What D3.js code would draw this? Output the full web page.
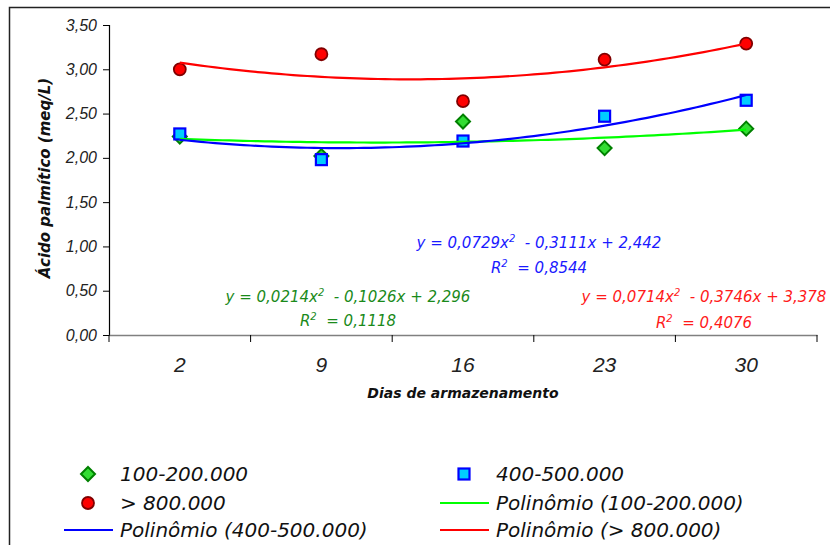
<!DOCTYPE html>
<html><head><meta charset="utf-8">
<script src="https://cdn.jsdelivr.net/npm/d3@7"></script>
<style>
body{margin:0;background:#fff;}
svg{display:block;font-family:"DejaVu Sans",Verdana,sans-serif;}
</style></head>
<body><svg id="c" width="830" height="545"></svg>
<script>
const categories = ["2", "9", "16", "23", "30"];
const s100 = [2.24, 2.02, 2.41, 2.11, 2.33];
const s400 = [2.27, 1.98, 2.19, 2.47, 2.65];
const s800 = [3.00, 3.17, 2.64, 3.11, 3.29];
const yTicks = [0, 0.5, 1.0, 1.5, 2.0, 2.5, 3.0, 3.5];
const poly100 = [0.0214, -0.1026, 2.296];
const poly400 = [0.0729, -0.3111, 2.442];
const poly800 = [0.0714, -0.3746, 3.378];
const eq100 = ["y = 0,0214x", "  - 0,1026x + 2,296", "0,1118"];
const eq400 = ["y = 0,0729x", "  - 0,3111x + 2,442", "0,8544"];
const eq800 = ["y = 0,0714x", "  - 0,3746x + 3,378", "0,4076"];
const legendLabels = ["100-200.000", "400-500.000", "> 800.000", "Polinômio (100-200.000)", "Polinômio (400-500.000)", "Polinômio (> 800.000)"];

const svg = d3.select("#c");
const L = 109, R = 817, T = 25, B = 335;

// outer frame
svg.append("rect").attr("x", 9.5).attr("y", 7.5).attr("width", 900).attr("height", 600)
  .attr("fill", "none").attr("stroke", "#222").attr("stroke-width", 1.5);

const x = d3.scaleBand().domain(categories).range([L, R]);
const xi = d3.scaleLinear().domain([0.5, 5.5]).range([L, R]);
const y = d3.scaleLinear().domain([0, 3.5]).range([B, T]);

// y axis
const yAxis = svg.append("g").attr("transform", `translate(${L},0)`)
  .call(d3.axisLeft(y).tickValues(yTicks).tickSize(6).tickPadding(6)
    .tickFormat(d => d3.format(".2f")(d).replace(".", ",")));
yAxis.select(".domain").attr("stroke", "#000").attr("stroke-width", 1.2);
yAxis.selectAll(".tick line").attr("stroke", "#000");
yAxis.selectAll("text").attr("font-size", 16).attr("font-style", "italic").attr("fill", "#222");

// x axis
const xAxis = svg.append("g").attr("transform", `translate(0,${B})`)
  .call(d3.axisBottom(x).tickSize(0).tickPadding(22));
xAxis.select(".domain").attr("stroke", "#808080").attr("stroke-width", 1.5);
xAxis.selectAll("text").attr("font-size", 21).attr("font-style", "italic").attr("fill", "#222");
const bounds = categories.map(c => x(c)).concat([R]);
xAxis.selectAll(".bt").data(bounds).join("line").attr("class", "bt")
  .attr("x1", d => d).attr("x2", d => d).attr("y1", 0).attr("y2", 7)
  .attr("stroke", "#000").attr("stroke-width", 1);

// titles
svg.append("text").attr("x", 463).attr("y", 398).attr("text-anchor", "middle")
  .attr("font-size", 14).attr("font-weight", "bold").attr("font-style", "italic").attr("fill", "#111")
  .text("Dias de armazenamento");
svg.append("text").attr("transform", "translate(50,178) rotate(-90)").attr("text-anchor", "middle")
  .attr("font-size", 15).attr("font-weight", "bold").attr("font-style", "italic").attr("fill", "#111")
  .text("Ácido palmítico (meq/L)");

const cx = (d, i) => x(categories[i]) + x.bandwidth() / 2;

// markers
function drawDiamond(g, px, py) {
  g.append("path").attr("d", "M0,-7 L7,0 L0,7 L-7,0 Z").attr("transform", `translate(${px},${py})`)
    .attr("fill", "#33dd33").attr("stroke", "#008000").attr("stroke-width", 2);
}
function drawSquare(g, px, py) {
  g.append("rect").attr("x", px - 5.5).attr("y", py - 5.5).attr("width", 11).attr("height", 11)
    .attr("fill", "#00ccff").attr("stroke", "#0000ff").attr("stroke-width", 2.2);
}
function drawCircle(g, px, py) {
  g.append("circle").attr("cx", px).attr("cy", py).attr("r", 6)
    .attr("fill", "#ff0000").attr("stroke", "#800000").attr("stroke-width", 1.8);
}
const mk = svg.append("g");
s100.forEach((v, i) => drawDiamond(mk, cx(v, i), y(v)));
s400.forEach((v, i) => drawSquare(mk, cx(v, i), y(v)));
s800.forEach((v, i) => drawCircle(mk, cx(v, i), y(v)));

// trendlines
const ts = d3.range(1, 5.0001, 0.05);
const line = d3.line().x(d => xi(d[0])).y(d => y(d[1]));
[[poly100, "#00ff00"], [poly400, "#0000ff"], [poly800, "#ff0000"]].forEach(([p, col]) => {
  svg.append("path").datum(ts.map(t => [t, p[0] * t * t + p[1] * t + p[2]]))
    .attr("d", line).attr("fill", "none").attr("stroke", col).attr("stroke-width", 2.2);
});

// equations
function eq(lbl, cxp, cy1, cy2, col) {
  const t = svg.append("text").attr("x", cxp).attr("y", cy1).attr("text-anchor", "middle")
    .attr("font-size", 15).attr("font-style", "italic").attr("fill", col)
    .style("white-space", "pre");
  t.append("tspan").text(lbl[0]);
  t.append("tspan").attr("dy", -6).attr("font-size", 10).text("2");
  t.append("tspan").attr("dy", 6).text(lbl[1]);
  const r = svg.append("text").attr("x", cxp).attr("y", cy2).attr("text-anchor", "middle")
    .attr("font-size", 15).attr("font-style", "italic").attr("fill", col)
    .style("white-space", "pre");
  r.append("tspan").text("R");
  r.append("tspan").attr("dy", -6).attr("font-size", 10).text("2");
  r.append("tspan").attr("dy", 6).text("  = " + lbl[2]);
}
eq(eq400, 539, 248, 273, "#1a1aff");
eq(eq100, 348, 302, 326, "#1a8a1a");
eq(eq800, 704, 302, 328, "#ff1a1a");

// legend
const lg = svg.append("g");
const rows = [474, 503, 530];
const col1 = 88, col2 = 464, tx1 = 120, tx2 = 496;
drawDiamond(lg, col1, rows[0]);
drawSquare(lg, col2, rows[0]);
drawCircle(lg, col1, rows[1]);
lg.append("line").attr("x1", 440).attr("x2", 489).attr("y1", rows[1]).attr("y2", rows[1]).attr("stroke", "#00ff00").attr("stroke-width", 2.2);
lg.append("line").attr("x1", 64).attr("x2", 113).attr("y1", rows[2]).attr("y2", rows[2]).attr("stroke", "#0000ff").attr("stroke-width", 2.2);
lg.append("line").attr("x1", 440).attr("x2", 489).attr("y1", rows[2]).attr("y2", rows[2]).attr("stroke", "#ff0000").attr("stroke-width", 2.2);
const lpos = [[tx1, rows[0]], [tx2, rows[0]], [tx1, rows[1]], [tx2, rows[1]], [tx1, rows[2]], [tx2, rows[2]]];
lg.selectAll(".lt").data(legendLabels).join("text").attr("class", "lt")
  .attr("x", (d, i) => lpos[i][0]).attr("y", (d, i) => lpos[i][1]).attr("dy", "0.36em")
  .attr("font-size", 20).attr("font-style", "italic").attr("fill", "#111").text(d => d);
</script></body></html>
